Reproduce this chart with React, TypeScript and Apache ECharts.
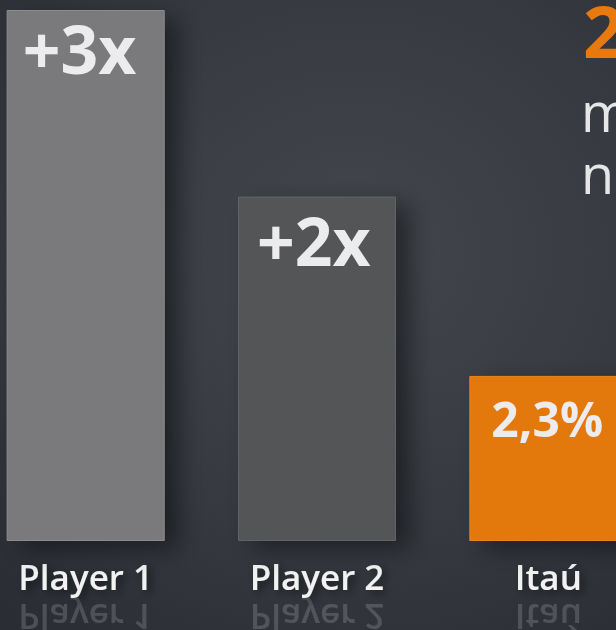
import React, { useEffect, useRef } from "react";
import * as echarts from "echarts";

const categories = ["Player 1", "Player 2", "Itaú"];
const values = [7.4, 4.8, 2.3];
const barLabels = ["+3x", "+2x", "2,3%"];
const barColors = ["#7a7a7b", "#535457", "#e3780e"];
const barBorders = ["#8c8c8d", "#626366", "#e8841f"];
const labelSizes = [66, 66, 48];
const labelOffsets: [number, number][] = [[16, 5], [19, 10], [22, 19]];
const sideTexts = ["2", "m", "n"];

const SHIFT = 30; // container starts 30px left of the window

export default function App() {
  const ref = useRef<HTMLDivElement>(null);
  useEffect(() => {
    if (!ref.current) return;
    const chart = echarts.init(ref.current, null, { renderer: "svg" });
    const font = "'Open Sans', 'Noto Sans', sans-serif";
    const option: any = {
      animation: false,
      backgroundColor: {
        type: "radial",
        x: 0.55,
        y: 0.4,
        r: 0.75,
        colorStops: [
          { offset: 0, color: "#43474d" },
          { offset: 0.6, color: "#363a40" },
          { offset: 1, color: "#2a2e34" },
        ],
      },
      grid: { left: 0, right: 0, top: 10, bottom: 89, containLabel: false },
      xAxis: {
        type: "category",
        data: categories,
        axisLine: { show: false },
        axisTick: { show: false },
        splitLine: { show: false },
        axisLabel: {
          color: "#f2f2f2",
          fontFamily: font,
          fontWeight: 600,
          fontSize: 35,
          margin: 18,
          textShadowColor: "rgba(0,0,0,0.55)",
          textShadowBlur: 8,
          textShadowOffsetX: 4,
          textShadowOffsetY: 3,
        },
      },
      yAxis: { type: "value", min: 0, max: 7.4, show: false },
      series: [
        {
          type: "bar",
          barWidth: 158,
          data: values.map((v, i) => ({
            value: v,
            itemStyle: {
              color: barColors[i],
              borderColor: barBorders[i],
              borderWidth: 1,
              shadowColor: "rgba(0,0,0,0.45)",
              shadowBlur: 24,
              shadowOffsetX: 14,
              shadowOffsetY: 8,
            },
            label: {
              show: true,
              position: labelOffsets[i],
              formatter: barLabels[i],
              color: "#ececee",
              fontFamily: font,
              fontWeight: "bold",
              fontSize: labelSizes[i],
              align: "left",
              verticalAlign: "top",
            },
          })),
        },
      ],
      graphic: [
        {
          type: "text",
          x: 583 + SHIFT,
          y: 66,
          style: {
            text: sideTexts[0],
            fill: "#e8790f",
            font: `bold 72px ${font}`,
            textVerticalAlign: "bottom",
          },
        },
        {
          type: "text",
          x: 581 + SHIFT,
          y: 138,
          style: {
            text: sideTexts[1],
            fill: "#e6e6e8",
            font: `54px ${font}`,
            textVerticalAlign: "bottom",
          },
        },
        {
          type: "text",
          x: 581 + SHIFT,
          y: 200,
          style: {
            text: sideTexts[2],
            fill: "#e6e6e8",
            font: `54px ${font}`,
            textVerticalAlign: "bottom",
          },
        },
      ],
    };
    chart.setOption(option);
    const reflections = categories.map((c) => {
      const x = chart.convertToPixel({ xAxisIndex: 0 }, c) as number;
      return {
        type: "text",
        x,
        y: 600,
        scaleY: -1,
        silent: true,
        style: {
          text: c,
          fill: "rgba(235,235,235,0.18)",
          font: `600 35px ${font}`,
          textAlign: "center",
          textVerticalAlign: "bottom",
        },
      };
    });
    chart.setOption({ graphic: [...option.graphic, ...reflections] });
    return () => chart.dispose();
  }, []);
  return (
    <div
      ref={ref}
      style={{ position: "fixed", left: -SHIFT, top: 0, width: 694, height: 630 }}
    />
  );
}
